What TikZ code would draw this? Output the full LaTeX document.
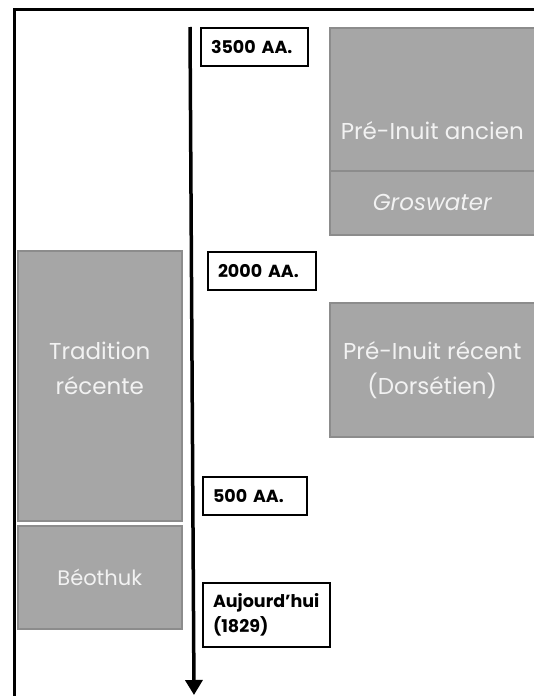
\documentclass[tikz,border=0pt]{standalone}
\usepackage{fontspec}
\setmainfont{Poppins}
\usetikzlibrary{arrows.meta}
\definecolor{boxgrey}{HTML}{A6A6A6}
\definecolor{boxline}{HTML}{8C8C8C}
\definecolor{boxtext}{HTML}{F2F2F2}
\tikzset{
  period/.style={draw=boxline,line width=1.5pt,fill=boxgrey,text=boxtext,
    font=\fontsize{23}{35}\selectfont,align=center,inner sep=0pt,anchor=north west},
  datebox/.style={draw=black,line width=2pt,fill=white,text width=#1,
    font=\bfseries\fontsize{17.5}{25}\selectfont,align=left,inner xsep=10pt,
    inner ysep=0pt,minimum height=38pt,anchor=north west}
}
\begin{document}
\begin{tikzpicture}[x=1pt,y=-1pt]
\useasboundingbox (0,0) rectangle (534,696);
\draw[line width=3pt] (14,696)--(14,9)--(534,9);
\coordinate (top) at (190,27);
\coordinate (now) at (194,695);
\draw[line width=3.5pt,-{Triangle[length=15pt,width=17pt]}] (top)--(now);
\node[period,minimum width=205pt,text height=112pt,text depth=31pt] (ancien) at (329,27) {Pré-Inuit ancien};
\node[period,minimum width=205pt,minimum height=64pt,font=\itshape\fontsize{23}{35}\selectfont] (groswater) at (329,170) {Groswater};
\node[period,minimum width=205pt,minimum height=134pt] (recent) at (329,302) {Pré-Inuit récent\\(Dorsétien)};
\node[period,minimum width=164pt,minimum height=270pt] (tradition) at (17,250) {Tradition\\récente\\\mbox{}};
\node[period,minimum width=164pt,minimum height=103pt,font=\fontsize{21}{25}\selectfont] (beothuk) at (17,525) {Béothuk};
\node[datebox=87pt] (d3500) at (200,27) {3500 AA.};
\node[datebox=88pt] (d2000) at (207,251) {2000 AA.};
\node[datebox=84pt] (d500) at (202,476) {500 AA.};
\node[datebox=107pt,minimum height=64pt] (today) at (202,582) {Aujourd'hui\\(1829)};
\end{tikzpicture}
\end{document}
